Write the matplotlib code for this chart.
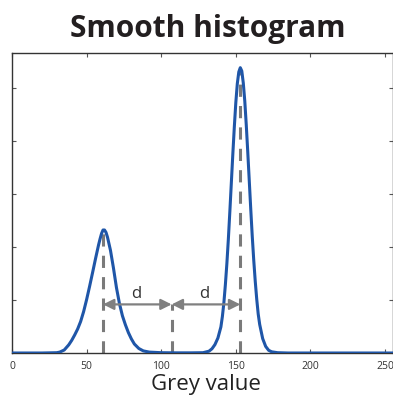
import matplotlib
matplotlib.use("Agg")
import matplotlib.pyplot as plt

# grey value samples and smoothed histogram height (fraction of axis height)
grey = [0, 10, 20, 30, 32, 35, 38, 40, 42, 44, 46, 48, 50, 52, 54, 56, 58, 59, 60, 61,
        62, 63, 64, 66, 68, 70, 72, 74, 76, 78, 80, 82, 85, 88, 92, 100, 110, 120,
        128, 132, 134, 136, 138, 140, 141, 142, 143, 144, 145, 146, 147, 148, 149,
        150, 151, 152, 153, 154, 155, 156, 157, 158, 159, 160, 161, 162, 163, 164,
        165, 166, 168, 170, 172, 174, 178, 185, 200, 220, 240, 255]
density = [0, 0, 0, 0.001, 0.003, 0.01, 0.027, 0.042, 0.06, 0.08, 0.105, 0.138,
           0.178, 0.222, 0.268, 0.315, 0.36, 0.38, 0.398, 0.41,
           0.41, 0.402, 0.386, 0.342, 0.283, 0.218, 0.165, 0.124, 0.094, 0.068, 0.047,
           0.03, 0.015, 0.007, 0.003, 0.001, 0.0005, 0.0005,
           0.001, 0.006, 0.014, 0.028, 0.05, 0.087, 0.122, 0.168, 0.228, 0.298,
           0.38, 0.472, 0.568, 0.664, 0.754,
           0.835, 0.898, 0.937, 0.951, 0.94, 0.9, 0.84, 0.76, 0.67, 0.575, 0.48,
           0.39, 0.31, 0.24, 0.18, 0.13, 0.095, 0.048, 0.022, 0.009,
           0.004, 0.001, 0, 0, 0, 0, 0]

peak_pos = [61, 107, 153]
peak_top = [0.412, 0.162, 0.951]
arrow_y = 0.162
xticks = [0, 50, 100, 150, 200, 250]

plt.rcParams['font.family'] = ['Open Sans', 'DejaVu Sans']

fig = plt.figure(figsize=(3.93, 4.0), dpi=100)
ax = fig.add_axes([12 / 393, 47 / 400, 380.5 / 393, 0.75])

grey_c = '#7a7a7a'
for xp, yt in zip(peak_pos, peak_top):
    ax.plot([xp, xp], [0, yt], color=grey_c, lw=2.2, linestyle=(0, (4, 3)),
            solid_capstyle='butt', zorder=2)

ax.plot(grey, density, color='#1f56a8', lw=2.2, zorder=3)

for a, b in zip(peak_pos[:-1], peak_pos[1:]):
    ax.annotate('', xy=(a, arrow_y), xytext=(b, arrow_y),
                arrowprops=dict(arrowstyle='<|-|>', color='#808080', lw=1.6,
                                mutation_scale=16, shrinkA=0, shrinkB=0))
    ax.text((a + b) / 2 - 1, arrow_y + 0.008, 'd', ha='center', va='bottom',
            fontsize=12, color='#333333')

ax.set_xlim(0, 255)
ax.set_ylim(0, 1)
ax.set_xticks(xticks)
ax.set_xticklabels([str(t) for t in xticks], fontsize=7.5, color='#333333')
ax.set_yticks([0.1767 * k for k in range(1, 6)])
ax.set_yticklabels([])
ax.tick_params(direction='in', length=3, width=0.8, colors='#555555',
               top=True, right=True, pad=6)
ax.tick_params(axis='x', labelcolor='#333333')
for s in ax.spines.values():
    s.set_color('#333333')
    s.set_linewidth(1.0)

fig.text(206 / 393, 10 / 400, 'Grey value', ha='center', va='baseline',
         fontsize=16, color='#222222')
fig.text(207.5 / 393, 363 / 400, 'Smooth histogram', ha='center', va='baseline',
         fontsize=21.5, fontweight='bold', color='#231f20')

fig.savefig('out.png', dpi=100)
